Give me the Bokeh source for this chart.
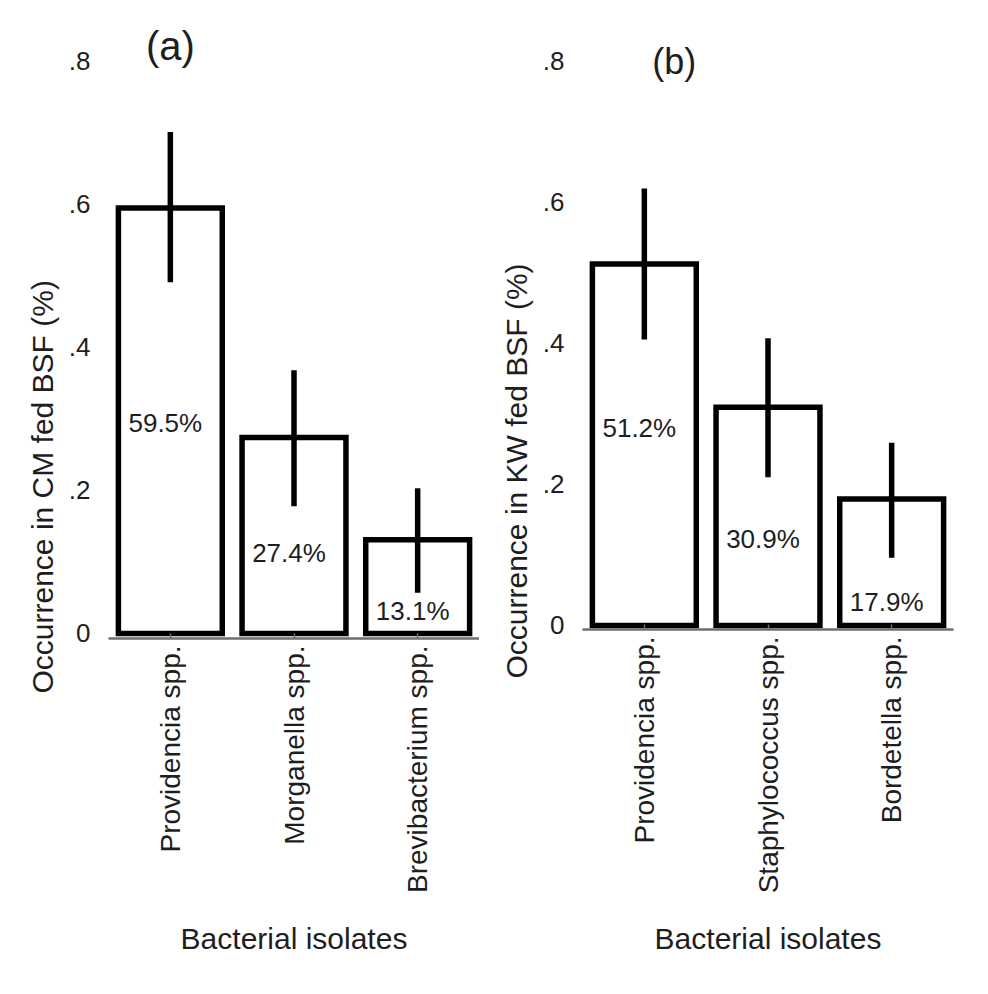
from math import pi
from bokeh.plotting import figure
from bokeh.layouts import row
from bokeh.models import ColumnDataSource, FactorRange, Range1d, Title, FixedTicker, Label
from bokeh.embed import file_html
from bokeh.resources import INLINE

# ---------------- data ----------------
cats_a = ["Providencia spp.", "Morganella spp.", "Brevibacterium spp."]
occ_a = [0.595, 0.274, 0.131]
low_a = [0.491, 0.178, 0.057]
high_a = [0.701, 0.368, 0.203]
pct_a = ["59.5%", "27.4%", "13.1%"]
pct_pos_a = [0.294, 0.112, 0.032]

cats_b = ["Providencia spp.", "Staphylococcus spp.", "Bordetella spp."]
occ_b = [0.512, 0.309, 0.179]
low_b = [0.405, 0.210, 0.096]
high_b = [0.619, 0.407, 0.259]
pct_b = ["51.2%", "30.9%", "17.9%"]
pct_pos_b = [0.280, 0.123, 0.033]

y_ticks = [0, 0.2, 0.4, 0.6, 0.8]
y_tick_labels = ["0", ".2", ".4", ".6", ".8"]

FONT = "Liberation Sans"
TEXT = "#1e1e1e"


def panel(cats, occ, low, high, pct, pct_pos, ylabel, tag, tag_y, tag_dx, tag_size,
          ystart, yend, frame_h, border_left, border_right, border_bottom, title_offset,
          label_standoff):
    src = ColumnDataSource(dict(cat=cats, occ=occ, low=low, high=high, pct=pct, pos=pct_pos))
    p = figure(x_range=FactorRange(factors=cats, range_padding=0),
               y_range=Range1d(ystart, yend),
               frame_width=371, frame_height=frame_h,
               min_border_left=border_left, min_border_right=border_right,
               min_border_top=20, min_border_bottom=border_bottom,
               output_backend="svg", toolbar_location=None)
    p.outline_line_color = None
    p.xgrid.grid_line_color = None
    p.ygrid.grid_line_color = None
    p.background_fill_color = "white"
    p.border_fill_color = "white"

    p.vbar(x="cat", top="occ", bottom=0, width=0.84, fill_color="white",
           line_color="black", line_width=5.5, line_join="miter", source=src)
    p.segment(x0="cat", y0="low", x1="cat", y1="high", line_color="black",
              line_width=5.5, source=src)
    p.text(x="cat", y="pos", text="pct", x_offset=-5, text_align="center",
           text_baseline="middle", text_font_size="26px", text_color=TEXT,
           text_font={"value": FONT}, source=src)

    p.add_layout(Label(x=0.5, y=tag_y, x_offset=tag_dx, text=tag, text_align="center",
                       text_baseline="middle", text_font_size=tag_size,
                       text_font=FONT, text_color=TEXT))

    # y axis
    p.yaxis.ticker = FixedTicker(ticks=y_ticks)
    p.yaxis.major_label_overrides = {t: l for t, l in zip(y_ticks, y_tick_labels)}
    p.yaxis.axis_line_color = None
    p.yaxis.major_tick_line_color = None
    p.yaxis.minor_tick_line_color = None
    p.yaxis.major_tick_in = 0
    p.yaxis.major_tick_out = 0
    p.yaxis.major_label_standoff = 18
    p.yaxis.major_label_text_font_size = "26px"
    p.yaxis.major_label_text_font = FONT
    p.yaxis.major_label_text_color = TEXT

    # x axis
    p.xaxis.axis_line_color = "#6e6e6e"
    p.xaxis.axis_line_width = 2.5
    p.xaxis.major_tick_line_color = "#6e6e6e"
    p.xaxis.major_tick_line_width = 1.5
    p.xaxis.major_tick_in = 5
    p.xaxis.major_tick_out = 0
    p.xaxis.major_label_orientation = pi / 2
    p.xaxis.major_label_standoff = 7
    p.xaxis.major_label_text_font_size = "28px"
    p.xaxis.major_label_text_font = FONT
    p.xaxis.major_label_text_color = TEXT
    p.xaxis.axis_label = "Bacterial isolates"
    p.xaxis.axis_label_standoff = label_standoff
    p.xaxis.axis_label_text_font_size = "30px"
    p.xaxis.axis_label_text_font_style = "normal"
    p.xaxis.axis_label_text_font = FONT
    p.xaxis.axis_label_text_color = TEXT

    t = Title(text=ylabel, align="left", offset=title_offset, text_font_size="30px",
              text_font_style="normal", text_font=FONT, text_color=TEXT, standoff=14)
    p.add_layout(t, "left")
    return p


pa = panel(cats_a, occ_a, low_a, high_a, pct_a, pct_pos_a,
           "Occurrence in CM fed BSF (%)", "(a)", 0.822, 0, "40px",
           -0.007, 0.857, 618, 108, 0, 332, -55, 26)
pb = panel(cats_b, occ_b, low_b, high_b, pct_b, pct_pos_b,
           "Occurrence in KW fed BSF (%)", "(b)", 0.799, 30, "36px",
           -0.0057, 0.857, 609, 103, 27, 341, -49, 26)

layout = row(pa, pb)
open("out.html", "w").write(file_html(layout, INLINE))
